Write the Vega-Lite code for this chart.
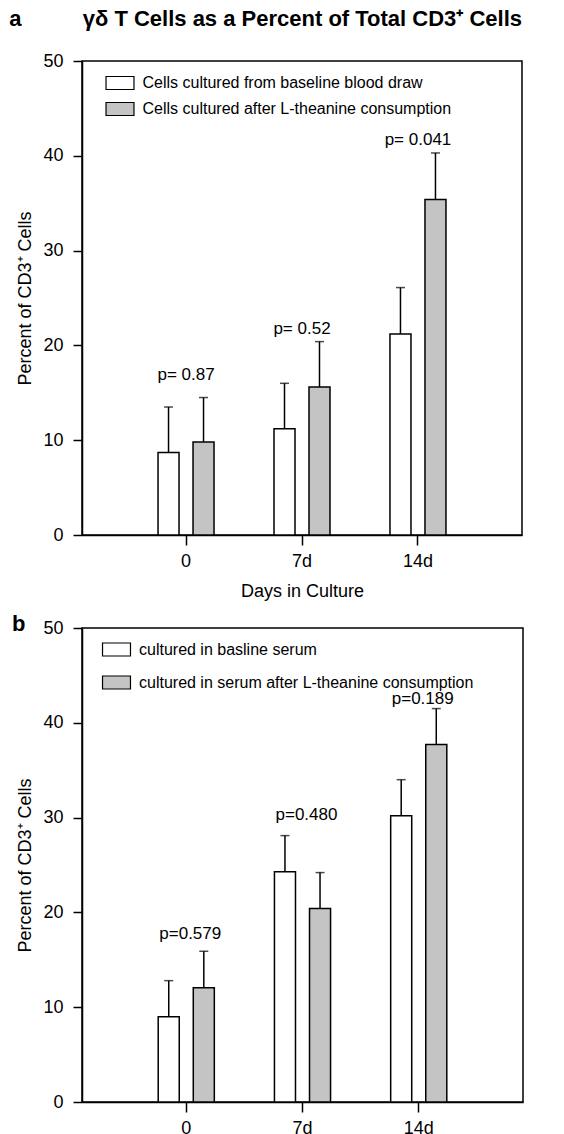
{
  "$schema": "https://vega.github.io/schema/vega-lite/v6.json",
  "padding": {"left": 8, "top": 7, "right": 0, "bottom": 0},
  "background": "white",
  "config": {
    "font": "Liberation Sans",
    "view": {"stroke": "black", "strokeWidth": 1.5},
    "axis": {"domainColor": "black", "tickColor": "black", "labelColor": "black", "titleColor": "black", "grid": false, "labelFontSize": 18, "titleFontSize": 18, "titleFontWeight": "normal", "domainWidth": 1.5, "tickWidth": 1.5},
    "legend": {"orient": "none", "title": null, "symbolType": "M-2.15,-1H2.15V1H-2.15Z", "symbolSize": 169, "symbolStrokeColor": "black", "symbolStrokeWidth": 1.2, "labelFontSize": 16, "labelColor": "black", "labelOffset": 14.5, "labelLimit": 500},
    "concat": {"spacing": 11}
  },
  "datasets": {
    "a": [
      {"day": "0", "group": "Cells cultured from baseline blood draw", "mean": 8.7, "upper": 13.5},
      {"day": "0", "group": "Cells cultured after L-theanine consumption", "mean": 9.8, "upper": 14.5},
      {"day": "7d", "group": "Cells cultured from baseline blood draw", "mean": 11.2, "upper": 16.0},
      {"day": "7d", "group": "Cells cultured after L-theanine consumption", "mean": 15.6, "upper": 20.4},
      {"day": "14d", "group": "Cells cultured from baseline blood draw", "mean": 21.2, "upper": 26.1},
      {"day": "14d", "group": "Cells cultured after L-theanine consumption", "mean": 35.4, "upper": 40.3}
    ],
    "pa": [
      {"day": "0", "p": "p= 0.87", "label_y": 16.9},
      {"day": "7d", "p": "p= 0.52", "label_y": 21.7},
      {"day": "14d", "p": "p= 0.041", "label_y": 41.7}
    ],
    "b": [
      {"day": "0", "group": "cultured in basline serum", "mean": 9.0, "upper": 12.8},
      {"day": "0", "group": "cultured in serum after L-theanine consumption", "mean": 12.05, "upper": 15.9},
      {"day": "7d", "group": "cultured in basline serum", "mean": 24.3, "upper": 28.1},
      {"day": "7d", "group": "cultured in serum after L-theanine consumption", "mean": 20.4, "upper": 24.2},
      {"day": "14d", "group": "cultured in basline serum", "mean": 30.2, "upper": 34.0},
      {"day": "14d", "group": "cultured in serum after L-theanine consumption", "mean": 37.7, "upper": 41.5}
    ],
    "pb": [
      {"day": "0", "p": "p=0.579", "label_y": 17.7},
      {"day": "7d", "p": "p=0.480", "label_y": 30.3},
      {"day": "14d", "p": "p=0.189", "label_y": 42.5}
    ]
  },
  "vconcat": [
    {
      "width": 440,
      "height": 474,
      "title": {"text": "a\u00a0\u00a0\u00a0\u00a0\u00a0\u00a0\u00a0\u00a0\u00a0\u00a0γδ T Cells as a Percent of Total CD3⁺ Cells", "anchor": "end", "frame": "group", "fontSize": 22, "fontWeight": "bold", "offset": 21, "color": "black"},
      "layer": [
        {
          "data": {"name": "a"},
          "mark": {"type": "bar", "stroke": "black", "strokeWidth": 1.5},
          "encoding": {
            "x": {"field": "day", "type": "nominal", "sort": ["0", "7d", "14d"], "scale": {"paddingInner": 0, "paddingOuter": 0.397}, "axis": {"labelAngle": 0, "tickSize": 10, "labelPadding": 7, "title": "Days in Culture", "titlePadding": 12}},
            "xOffset": {"field": "group", "type": "nominal", "sort": ["Cells cultured from baseline blood draw", "Cells cultured after L-theanine consumption"], "scale": {"paddingInner": 0.4, "paddingOuter": 0.857}},
            "y": {"field": "mean", "type": "quantitative", "scale": {"domain": [0, 50]}, "axis": {"values": [0, 10, 20, 30, 40, 50], "tickSize": 9, "labelPadding": 10, "title": "Percent of CD3⁺ Cells", "titlePadding": 8}},
            "fill": {"field": "group", "type": "nominal", "sort": ["Cells cultured from baseline blood draw", "Cells cultured after L-theanine consumption"], "scale": {"domain": ["Cells cultured from baseline blood draw", "Cells cultured after L-theanine consumption"], "range": ["white", "#c4c4c4"]}, "legend": {"legendX": 30, "legendY": 14, "rowPadding": 8}}
          }
        },
        {
          "data": {"name": "a"},
          "mark": {"type": "rule", "stroke": "black", "strokeWidth": 1.5},
          "encoding": {
            "x": {"field": "day", "type": "nominal", "sort": ["0", "7d", "14d"], "title": "Days in Culture"},
            "xOffset": {"field": "group", "type": "nominal", "sort": ["Cells cultured from baseline blood draw", "Cells cultured after L-theanine consumption"]},
            "y": {"field": "mean", "type": "quantitative", "title": "Percent of CD3⁺ Cells"},
            "y2": {"field": "upper"}
          }
        },
        {
          "data": {"name": "a"},
          "mark": {"type": "tick", "color": "black", "size": 9, "thickness": 1.5, "orient": "horizontal"},
          "encoding": {
            "x": {"field": "day", "type": "nominal", "sort": ["0", "7d", "14d"], "title": "Days in Culture"},
            "xOffset": {"field": "group", "type": "nominal", "sort": ["Cells cultured from baseline blood draw", "Cells cultured after L-theanine consumption"]},
            "y": {"field": "upper", "type": "quantitative", "title": "Percent of CD3⁺ Cells"}
          }
        },
        {
          "data": {"name": "pa"},
          "mark": {"type": "text", "fontSize": 17, "baseline": "middle", "color": "black"},
          "encoding": {
            "x": {"field": "day", "type": "nominal", "sort": ["0", "7d", "14d"], "title": "Days in Culture"},
            "y": {"field": "label_y", "type": "quantitative", "title": "Percent of CD3⁺ Cells"},
            "text": {"field": "p"}
          }
        }
      ]
    },
    {
      "width": 441,
      "height": 474,
      "title": {"text": "b", "anchor": "start", "frame": "bounds", "fontSize": 22, "fontWeight": "bold", "offset": -17, "dx": -5, "color": "black"},
      "layer": [
        {
          "data": {"name": "b"},
          "mark": {"type": "bar", "stroke": "black", "strokeWidth": 1.5},
          "encoding": {
            "x": {"field": "day", "type": "nominal", "sort": ["0", "7d", "14d"], "scale": {"paddingInner": 0, "paddingOuter": 0.397}, "axis": {"labelAngle": 0, "tickSize": 10, "labelPadding": 7, "title": null}},
            "xOffset": {"field": "group", "type": "nominal", "sort": ["cultured in basline serum", "cultured in serum after L-theanine consumption"], "scale": {"paddingInner": 0.4, "paddingOuter": 0.857}},
            "y": {"field": "mean", "type": "quantitative", "scale": {"domain": [0, 50]}, "axis": {"values": [0, 10, 20, 30, 40, 50], "tickSize": 9, "labelPadding": 10, "title": "Percent of CD3⁺ Cells", "titlePadding": 8}},
            "fill": {"field": "group", "type": "nominal", "sort": ["cultured in basline serum", "cultured in serum after L-theanine consumption"], "scale": {"domain": ["cultured in basline serum", "cultured in serum after L-theanine consumption"], "range": ["white", "#c4c4c4"]}, "legend": {"legendX": 26.5, "legendY": 13.5, "rowPadding": 15}}
          }
        },
        {
          "data": {"name": "b"},
          "mark": {"type": "rule", "stroke": "black", "strokeWidth": 1.5},
          "encoding": {
            "x": {"field": "day", "type": "nominal", "sort": ["0", "7d", "14d"], "title": null},
            "xOffset": {"field": "group", "type": "nominal", "sort": ["cultured in basline serum", "cultured in serum after L-theanine consumption"]},
            "y": {"field": "mean", "type": "quantitative", "title": "Percent of CD3⁺ Cells"},
            "y2": {"field": "upper"}
          }
        },
        {
          "data": {"name": "b"},
          "mark": {"type": "tick", "color": "black", "size": 9, "thickness": 1.5, "orient": "horizontal"},
          "encoding": {
            "x": {"field": "day", "type": "nominal", "sort": ["0", "7d", "14d"], "title": null},
            "xOffset": {"field": "group", "type": "nominal", "sort": ["cultured in basline serum", "cultured in serum after L-theanine consumption"]},
            "y": {"field": "upper", "type": "quantitative", "title": "Percent of CD3⁺ Cells"}
          }
        },
        {
          "data": {"name": "pb"},
          "mark": {"type": "text", "fontSize": 17, "baseline": "middle", "dx": 4, "color": "black"},
          "encoding": {
            "x": {"field": "day", "type": "nominal", "sort": ["0", "7d", "14d"], "title": null},
            "y": {"field": "label_y", "type": "quantitative", "title": "Percent of CD3⁺ Cells"},
            "text": {"field": "p"}
          }
        }
      ]
    }
  ],
  "resolve": {
    "scale": {"x": "independent", "y": "independent", "xOffset": "independent", "fill": "independent"},
    "axis": {"x": "independent", "y": "independent"},
    "legend": {"fill": "independent"}
  }
}
